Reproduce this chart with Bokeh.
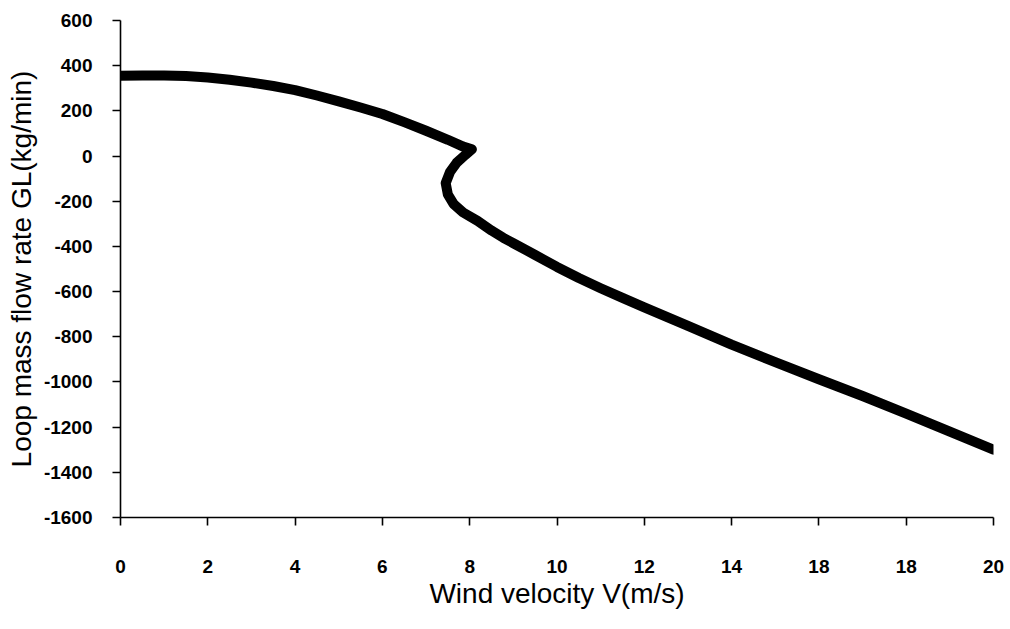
from bokeh.plotting import figure
from bokeh.models import FixedTicker, Range1d
from bokeh.embed import file_html
from bokeh.resources import INLINE

# Wind velocity V (m/s) and loop mass flow rate GL (kg/min)
wind_velocity = [0, 0.5, 1, 1.5, 2, 2.5, 3, 3.5, 4, 4.5, 5, 5.5, 6, 6.5, 7, 7.5,
                 7.85, 8.05, 7.9, 7.7, 7.55, 7.45, 7.5, 7.63, 7.85, 8.18, 8.5,
                 8.77, 9, 9.5, 10, 10.5, 11, 11.5, 12, 13, 14, 15, 16, 17, 18, 19, 20]
flow_rate = [355, 357, 357, 354, 348, 338, 325, 310, 292, 268, 242, 215, 186, 150,
             112, 72, 42, 30, 5, -30, -70, -120, -170, -212, -250, -287, -330,
             -362, -386, -438, -491, -540, -585, -628, -670, -752, -835, -912,
             -988, -1062, -1140, -1220, -1300]

x_ticks = [0, 2, 4, 6, 8, 10, 12, 14, 16, 18, 20]
x_tick_labels = ["0", "2", "4", "6", "8", "10", "12", "14", "18", "18", "20"]
y_ticks = [-1600, -1400, -1200, -1000, -800, -600, -400, -200, 0, 200, 400, 600]
y_tick_labels = ["-1600", "-1400", "-1200", "-1000", "-800", "-600", "-400",
                 "-200", "0", "200", "400", "600"]

FONT = "Liberation Sans"

p = figure(width=1010, height=629, output_backend="svg", toolbar_location=None,
           x_range=Range1d(0, 20), y_range=Range1d(-1600, 600),
           min_border_left=120, min_border_right=17, min_border_top=20,
           min_border_bottom=112)
p.outline_line_color = None
p.xgrid.visible = False
p.ygrid.visible = False
p.background_fill_color = "white"
p.border_fill_color = "white"

p.line(wind_velocity, flow_rate, line_width=10, line_color="black",
       line_join="round", line_cap="round")

for ax in (p.xaxis[0], p.yaxis[0]):
    ax.axis_line_color = "black"
    ax.axis_line_width = 1.6
    ax.major_tick_line_color = "black"
    ax.major_tick_line_width = 1.6
    ax.major_tick_in = 0
    ax.major_tick_out = 8
    ax.minor_tick_line_color = None
    ax.major_label_text_font = FONT
    ax.major_label_text_font_size = "19px"
    ax.major_label_text_font_style = "bold"
    ax.major_label_text_color = "black"
    ax.axis_label_text_font = FONT
    ax.axis_label_text_font_style = "normal"
    ax.axis_label_text_color = "black"

p.xaxis.ticker = FixedTicker(ticks=x_ticks)
p.xaxis.major_label_overrides = {t: l for t, l in zip(x_ticks, x_tick_labels)}
p.xaxis.major_label_standoff = 34
p.xaxis.axis_label = "Wind velocity V(m/s)"
p.xaxis.axis_label_text_font_size = "28px"
p.xaxis.axis_label_standoff = 2

p.yaxis.ticker = FixedTicker(ticks=y_ticks)
p.yaxis.major_label_overrides = {t: l for t, l in zip(y_ticks, y_tick_labels)}
p.yaxis.major_label_standoff = 20
p.yaxis.axis_label = "Loop mass flow rate GL(kg/min)"
p.yaxis.axis_label_text_font_size = "28px"
p.yaxis.axis_label_standoff = 4

open("out.html", "w").write(file_html(p, INLINE))
